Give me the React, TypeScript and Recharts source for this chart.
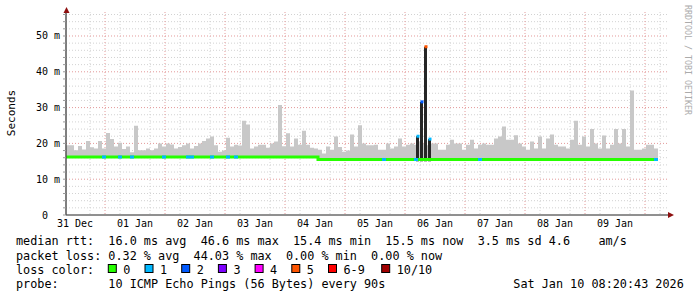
import * as React from 'react'
import { ComposedChart, Area, Bar, Line, XAxis, YAxis, CartesianGrid } from 'recharts'

// time axis in hours counted from 31 Dec 00:00
const START_HOUR = 8.4
const END_HOUR = 249.2
const STEP_HOURS = 1.6
const Y_TOP = 56.7

const dayLabels = ['31 Dec', '01 Jan', '02 Jan', '03 Jan', '04 Jan', '05 Jan', '06 Jan', '07 Jan', '08 Jan', '09 Jan']
const dayLabelHours = [12, 36, 60, 84, 108, 132, 156, 180, 204, 228]

// top of the smoke (ms) per step
const smokeHigh = [
    19.5, 19.5, 18.1, 19.3, 18.3, 20.7, 18.9, 18.6, 20.7, 18.6,
    22.9, 21.2, 19.1, 20.2, 18.4, 19.1, 17.5, 24.9, 18.1, 18.1,
    18.6, 18.1, 18.6, 20.0, 19.1, 20.0, 19.7, 18.6, 19.0, 19.5,
    20.0, 18.6, 19.3, 20.0, 20.7, 21.4, 21.9, 19.5, 17.7, 18.0,
    21.6, 19.1, 19.6, 19.4, 26.3, 25.3, 18.6, 19.1, 19.6, 19.6,
    18.8, 20.0, 20.5, 30.7, 19.2, 22.8, 19.1, 21.4, 19.6, 23.5,
    19.6, 18.8, 18.6, 18.2, 17.2, 19.1, 18.2, 21.9, 19.0, 17.7,
    18.0, 22.5, 19.1, 25.1, 20.0, 19.5, 19.5, 19.6, 18.2, 18.2,
    20.0, 18.6, 19.1, 21.4, 19.1, 19.6, 20.0, 19.6, 20.5, 20.0,
    19.5, 20.0, 20.0, 18.2, 18.2, 19.6, 21.0, 20.0, 20.0, 18.2,
    19.6, 21.0, 18.6, 19.6, 20.0, 19.6, 19.6, 21.4, 21.9, 24.7,
    21.0, 21.0, 22.3, 20.0, 19.1, 18.2, 20.5, 18.6, 21.9, 18.6,
    21.4, 22.5, 19.6, 19.1, 19.1, 18.6, 21.0, 26.3, 19.6, 21.9,
    19.1, 24.0, 20.0, 18.6, 22.2, 18.6, 19.6, 24.0, 20.0, 24.0,
    19.1, 34.8, 18.2, 18.2, 18.6, 19.6, 19.6, 18.6,
]

// median rtt (ms) per step
const medianRtt = [
    16.2, 16.2, 16.2, 16.2, 16.2, 16.2, 16.2, 16.2, 16.2, 16.2,
    16.2, 16.2, 16.2, 16.2, 16.2, 16.2, 16.2, 16.2, 16.2, 16.2,
    16.2, 16.2, 16.2, 16.2, 16.2, 16.2, 16.2, 16.2, 16.2, 16.2,
    16.2, 16.2, 16.2, 16.2, 16.2, 16.2, 16.2, 16.2, 16.2, 16.2,
    16.2, 16.2, 16.2, 16.2, 16.2, 16.2, 16.2, 16.2, 16.2, 16.2,
    16.2, 16.2, 16.2, 16.2, 16.2, 16.2, 16.2, 16.2, 16.2, 16.2,
    16.2, 16.2, 16.2, 15.5, 15.5, 15.5, 15.5, 15.5, 15.5, 15.5,
    15.5, 15.5, 15.5, 15.5, 15.5, 15.5, 15.5, 15.5, 15.5, 15.5,
    15.5, 15.5, 15.5, 15.5, 15.5, 15.5, 15.5, 15.5, 22.0, 31.6,
    47.0, 21.2, 15.5, 15.5, 15.5, 15.5, 15.5, 15.5, 15.5, 15.5,
    15.5, 15.5, 15.5, 15.5, 15.5, 15.5, 15.5, 15.5, 15.5, 15.5,
    15.5, 15.5, 15.5, 15.5, 15.5, 15.5, 15.5, 15.5, 15.5, 15.5,
    15.5, 15.5, 15.5, 15.5, 15.5, 15.5, 15.5, 15.5, 15.5, 15.5,
    15.5, 15.5, 15.5, 15.5, 15.5, 15.5, 15.5, 15.5, 15.5, 15.5,
    15.5, 15.5, 15.5, 15.5, 15.5, 15.5, 15.5, 15.5,
]

// lost pings out of 10 per step
const lostPings = [
    0, 0, 0, 0, 0, 0, 0, 0, 0, 1,
    0, 0, 0, 1, 0, 0, 1, 0, 0, 0,
    0, 0, 0, 0, 1, 0, 0, 0, 0, 0,
    1, 1, 0, 0, 0, 0, 1, 0, 0, 0,
    1, 0, 1, 0, 0, 0, 0, 0, 0, 0,
    0, 0, 0, 0, 0, 0, 0, 0, 0, 0,
    0, 0, 0, 0, 0, 0, 0, 0, 0, 0,
    0, 0, 0, 0, 0, 0, 0, 0, 0, 1,
    0, 0, 0, 0, 0, 0, 0, 1, 1, 2,
    5, 1, 0, 0, 0, 0, 0, 0, 0, 0,
    0, 0, 0, 1, 0, 0, 0, 0, 0, 0,
    0, 0, 0, 0, 0, 0, 0, 0, 0, 0,
    0, 0, 0, 0, 0, 0, 0, 0, 0, 0,
    0, 0, 0, 0, 0, 0, 0, 0, 0, 0,
    0, 0, 0, 0, 0, 0, 0, 1,
]

const lossLabels = ['0', '1', '2', '3', '4', '5', '6-9', '10/10']
const lossColors = ['#26ff00', '#00b8ff', '#0059ff', '#7e00ff', '#ff00ff', '#ff5500', '#ff0000', '#a10000']

const rttLine = 'median rtt:  16.0 ms avg  46.6 ms max  15.4 ms min  15.5 ms now  3.5 ms sd 4.6    am/s'
const lossLine = 'packet loss: 0.32 % avg  44.03 % max  0.00 % min  0.00 % now'
const probeLine = 'probe:       10 ICMP Echo Pings (56 Bytes) every 90s'
const stampText = 'Sat Jan 10 08:20:43 2026'

const lossColor = (n: number) => (n >= 10 ? lossColors[7] : n >= 6 ? lossColors[6] : lossColors[n])

const rows = smokeHigh.map((hi, i) => ({
    t: START_HOUR + i * STEP_HOURS,
    hi,
    median: medianRtt[i],
    loss: lostPings[i],
}))
// close the last step
rows.push({ ...rows[rows.length - 1], t: rows[rows.length - 1].t + STEP_HOURS, loss: 0 })

// during the burst the baseline stays at the last normal median
let baseline = rows[0].median
const chartData = rows.map((r) => {
    const isBurst = r.median > 19
    if (!isBurst) baseline = r.median
    return {
        ...r,
        smoke: [baseline, r.hi],
        burst: isBurst ? [15.0, r.median] : null,
        medianLine: baseline,
    }
})

const hourGrid = Array.from({ length: 40 }, (_, i) => 12 + i * 6)
const minorHours = hourGrid.filter((h) => h % 24 !== 0)
const majorHours = hourGrid.filter((h) => h % 24 === 0)
const msGrid = Array.from({ length: 28 }, (_, i) => 2 + i * 2)
const minorMs = msGrid.filter((v) => v % 10 !== 0)
const majorMs = msGrid.filter((v) => v % 10 === 0)
const yTicks = [0, ...msGrid]

const MONO = '"DejaVu Sans Mono", monospace'

function YTick({ y, payload }: any) {
    const v = payload.value
    if (v % 10 !== 0) return <g />
    return (
        <text x={v === 0 ? 48 : 60} y={y} dy={3.5} textAnchor="end" fontSize={10} fontFamily={MONO} fill="#000">
            {v === 0 ? '0' : `${v} m`}
        </text>
    )
}

function XTick({ x, payload }: any) {
    const idx = dayLabelHours.indexOf(payload.value)
    return (
        <text x={x} y={227} textAnchor="middle" fontSize={10} fontFamily={MONO} fill="#000">
            {idx >= 0 ? dayLabels[idx] : ''}
        </text>
    )
}

function LossDot(props: any) {
    const { cx, cy, payload, index } = props
    if (!payload || !payload.loss || cx == null || cy == null) return <g key={`l${index}`} />
    const burst = payload.median > 19
    return (
        <rect
            key={`l${index}`}
            x={burst ? cx - 1.5 : cx}
            y={cy - 1.5}
            width={burst ? 3 : 4}
            height={3}
            fill={lossColor(payload.loss)}
        />
    )
}

export default function App() {
    const swatchX = [108.3, 145, 181.7, 218.4, 255.1, 291.8, 328.5, 381.7]
    return (
        <div style={{ position: 'relative', width: 697, height: 297, background: '#fff', overflow: 'hidden' }}>
            <style>{'body{margin:0}'}</style>
            <ComposedChart
                width={697}
                height={235}
                data={chartData}
                margin={{ top: 12, right: 29, bottom: 0, left: 0 }}
            >
                <CartesianGrid
                    stroke="#d2d2d2"
                    strokeDasharray="1 2"
                    horizontalValues={minorMs}
                    verticalValues={minorHours}
                />
                <CartesianGrid
                    stroke="#e39a9a"
                    strokeDasharray="1 2"
                    horizontalValues={majorMs}
                    verticalValues={majorHours}
                />
                <XAxis
                    type="number"
                    dataKey="t"
                    domain={[START_HOUR, END_HOUR]}
                    ticks={dayLabelHours}
                    tick={<XTick />}
                    tickLine={false}
                    axisLine={{ stroke: '#222', strokeWidth: 1 }}
                    height={20}
                    allowDataOverflow
                />
                <YAxis
                    type="number"
                    domain={[0, Y_TOP]}
                    ticks={yTicks}
                    tick={<YTick />}
                    tickSize={3}
                    tickLine={{ stroke: '#999' }}
                    axisLine={{ stroke: '#555', strokeWidth: 1.5 }}
                    width={66}
                    interval={0}
                    allowDataOverflow
                />
                <Area
                    type="stepAfter"
                    dataKey="smoke"
                    fill="#c8c8c8"
                    fillOpacity={1}
                    stroke="none"
                    isAnimationActive={false}
                />
                <Line
                    type="stepAfter"
                    dataKey="medianLine"
                    stroke="#26ff00"
                    strokeWidth={3}
                    dot={false}
                    activeDot={false}
                    isAnimationActive={false}
                />
                <Bar dataKey="burst" barSize={3} fill="#262626" isAnimationActive={false} />
                <Line
                    type="stepAfter"
                    dataKey="median"
                    stroke="none"
                    dot={(p: any) => <LossDot {...p} key={`l${p.index}`} />}
                    activeDot={false}
                    isAnimationActive={false}
                />
            </ComposedChart>
            <svg
                width={697}
                height={297}
                style={{ position: 'absolute', left: 0, top: 0, pointerEvents: 'none' }}
                fontFamily={MONO}
            >
                <polygon points="66.5,7 63.5,13 69.5,13" fill="#8e1010" />
                <polygon points="674,215 668,212 668,218" fill="#8e1010" />
                <text
                    x={11}
                    y={113}
                    transform="rotate(-90 11 113)"
                    textAnchor="middle"
                    dominantBaseline="central"
                    fontSize={11}
                    fill="#000"
                >
                    Seconds
                </text>
                <text x={685} y={5} transform="rotate(90 685 5)" fontSize={8.3} fill="#ababab">
                    RRDTOOL / TOBI OETIKER
                </text>
                <g fontSize={11.8} fill="#000" style={{ whiteSpace: 'pre' }}>
                    <text x={16} y={245} xmlSpace="preserve">{rttLine}</text>
                    <text x={16} y={260} xmlSpace="preserve">{lossLine}</text>
                    <text x={16} y={273.5} xmlSpace="preserve">loss color:</text>
                    {lossLabels.map((lab, i) => (
                        <g key={lab}>
                            <rect x={swatchX[i]} y={264.5} width={8} height={8} fill={lossColors[i]} stroke="#000" strokeWidth={1} />
                            <text x={swatchX[i] + 15} y={273.5}>{lab}</text>
                        </g>
                    ))}
                    <text x={16} y={287.5} xmlSpace="preserve">{probeLine}</text>
                    <text x={513.3} y={287.5}>{stampText}</text>
                </g>
            </svg>
        </div>
    )
}
